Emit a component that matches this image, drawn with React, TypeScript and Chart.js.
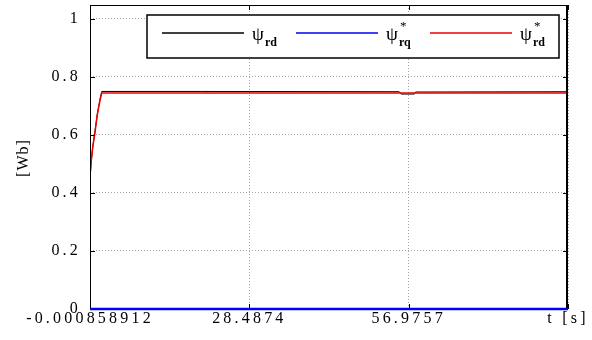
import React, { useEffect, useRef } from "react";
import { Chart, registerables } from "chart.js";

Chart.register(...registerables);

// ---- data ----
const xTickValues = [-0.000858912, 28.4874, 56.9757, 85.4640];
const xTickLabels = ["-0.000858912", "28.4874", "56.9757", "t [s]"];
const yTickValues = [0, 0.2, 0.4, 0.6, 0.8, 1];
const yTickLabels = ["0", "0.2", "0.4", "0.6", "0.8", "1"];

const psiRdTime = [-0.000858912, 0.2, 0.5, 0.9, 1.3, 1.8, 2.1, 20, 55.3, 55.6, 58.0, 58.2, 85.464];
const psiRdValues = [0.45, 0.505, 0.56, 0.615, 0.67, 0.725, 0.75, 0.75, 0.749, 0.741, 0.741, 0.748, 0.749];

const psiRqRefTime = [-0.000858912, 85.464];
const psiRqRefValues = [0, 0];

const psiRdRefTime = [-0.000858912, 0.2, 0.5, 0.9, 1.3, 1.8, 2.1, 85.464];
const psiRdRefValues = [0.455, 0.508, 0.56, 0.61, 0.67, 0.72, 0.745, 0.745];

const legendNames = ["rd", "rq", "rd"];
const legendStar = [false, true, true];
const seriesColors = ["#000000", "#0000ee", "#ee0000"];

const toPts = (t: number[], v: number[]) => t.map((x, i) => ({ x, y: v[i] }));

const SERIF = "'Liberation Serif', 'Times New Roman', serif";

const decorPlugin = {
  id: "decor",
  beforeDraw(chart: any) {
    const ctx = chart.ctx;
    ctx.save();
    ctx.fillStyle = "#ffffff";
    ctx.fillRect(0, 0, chart.width, chart.height);
    ctx.restore();
    ctx.letterSpacing = "3.2px";
  },
  afterDatasetsDraw(chart: any) {
    const ctx = chart.ctx;
    const { left, right, top, bottom } = chart.chartArea;
    const xs = chart.scales.x;
    const ys = chart.scales.y;
    ctx.save();
    ctx.letterSpacing = "0px";
    ctx.setLineDash([]);
    // frame
    ctx.strokeStyle = "#000";
    ctx.lineWidth = 1;
    ctx.beginPath();
    ctx.moveTo(left + 0.5, top + 0.5);
    ctx.lineTo(right - 0.5, top + 0.5);
    ctx.moveTo(left + 0.5, top);
    ctx.lineTo(left + 0.5, bottom);
    ctx.stroke();
    ctx.lineWidth = 2;
    ctx.beginPath();
    ctx.moveTo(right - 1, top);
    ctx.lineTo(right - 1, bottom);
    ctx.stroke();
    // inward tick marks
    ctx.lineWidth = 1;
    ctx.beginPath();
    yTickValues.forEach((v) => {
      const y = Math.round(ys.getPixelForValue(v)) + 0.5;
      ctx.moveTo(left, y);
      ctx.lineTo(left + 5, y);
      ctx.moveTo(right, y);
      ctx.lineTo(right - 5, y);
    });
    xTickValues.forEach((v) => {
      const x = Math.round(xs.getPixelForValue(v)) + 0.5;
      ctx.moveTo(x, bottom);
      ctx.lineTo(x, bottom - 5);
      ctx.moveTo(x, top);
      ctx.lineTo(x, top + 5);
    });
    ctx.stroke();

    // blue line on top of frame
    ctx.strokeStyle = seriesColors[1];
    ctx.lineWidth = 2.5;
    ctx.beginPath();
    const pts = toPts(psiRqRefTime, psiRqRefValues);
    pts.forEach((p, i) => {
      const px = xs.getPixelForValue(p.x);
      const py = ys.getPixelForValue(p.y);
      if (i === 0) ctx.moveTo(px, py);
      else ctx.lineTo(px, py);
    });
    ctx.stroke();

    // legend box
    const bx = 147, by = 15, bw = 412, bh = 43;
    ctx.fillStyle = "#fff";
    ctx.fillRect(bx, by, bw, bh);
    ctx.strokeStyle = "#000";
    ctx.lineWidth = 1.5;
    ctx.strokeRect(bx, by, bw, bh);
    const lineStarts = [162, 296, 430];
    const ly = 33;
    lineStarts.forEach((sx, i) => {
      ctx.strokeStyle = seriesColors[i];
      ctx.lineWidth = 1.5;
      ctx.beginPath();
      ctx.moveTo(sx, ly);
      ctx.lineTo(sx + 82, ly);
      ctx.stroke();
      const tx = sx + 90;
      ctx.fillStyle = "#000";
      ctx.textAlign = "left";
      ctx.textBaseline = "alphabetic";
      ctx.font = `19px ${SERIF}`;
      ctx.fillText("ψ", tx, 40);
      const w = ctx.measureText("ψ").width;
      ctx.font = `bold 12px ${SERIF}`;
      ctx.fillText(legendNames[i], tx + w + 1, 46);
      if (legendStar[i]) {
        ctx.font = `13px ${SERIF}`;
        ctx.fillText("*", tx + w + 2, 30);
      }
    });

    // y title
    ctx.save();
    ctx.translate(28, 158);
    ctx.rotate(-Math.PI / 2);
    ctx.font = `16px ${SERIF}`;
    ctx.fillStyle = "#000";
    ctx.textAlign = "center";
    ctx.textBaseline = "alphabetic";
    ctx.letterSpacing = "1px";
    ctx.fillText("[Wb]", 0, 0);
    ctx.restore();

    ctx.restore();
  },
  afterDraw(chart: any) {
    chart.ctx.letterSpacing = "0px";
  },
};

export default function App() {
  const ref = useRef<HTMLCanvasElement>(null);
  useEffect(() => {
    if (!ref.current) return;
    const chart = new Chart(ref.current, {
      type: "line",
      data: {
        datasets: [
          {
            label: "ψrd",
            data: toPts(psiRdTime, psiRdValues),
            borderColor: seriesColors[0],
            borderWidth: 1,
            pointRadius: 0,
            tension: 0,
            order: 2,
          },
          {
            label: "ψ*rq",
            data: toPts(psiRqRefTime, psiRqRefValues),
            borderColor: seriesColors[1],
            borderWidth: 2,
            pointRadius: 0,
            tension: 0,
            order: 0,
          },
          {
            label: "ψ*rd",
            data: toPts(psiRdRefTime, psiRdRefValues),
            borderColor: seriesColors[2],
            borderWidth: 1.5,
            pointRadius: 0,
            tension: 0,
            order: 1,
          },
        ],
      },
      options: {
        animation: false,
        responsive: true,
        maintainAspectRatio: false,
        layout: { padding: { left: 0, right: 24, top: 5, bottom: 0 } },
        plugins: { legend: { display: false }, tooltip: { enabled: false } },
        scales: {
          x: {
            type: "linear",
            min: xTickValues[0],
            max: xTickValues[xTickValues.length - 1],
            afterBuildTicks: (s: any) => {
              s.ticks = xTickValues.map((v) => ({ value: v }));
            },
            afterFit: (s: any) => {
              s.height = 31;
              s.paddingLeft = 0;
              s.paddingRight = 0;
            },
            ticks: {
              autoSkip: false,
              maxRotation: 0,
              padding: 0,
              color: "#000",
              font: { family: SERIF, size: 16 },
              callback: (_v: any, i: number) => xTickLabels[i],
            },
            grid: {
              drawTicks: false,
              color: "#a8a8a8",
              lineWidth: 1,
            },
            border: { display: false, dash: [1, 2] },
          },
          y: {
            type: "linear",
            min: 0,
            max: 1.048,
            afterBuildTicks: (s: any) => {
              s.ticks = yTickValues.map((v) => ({ value: v }));
            },
            afterFit: (s: any) => {
              s.width = 90;
              s.paddingTop = 0;
              s.paddingBottom = 0;
            },
            ticks: {
              autoSkip: false,
              padding: 9,
              color: "#000",
              font: { family: SERIF, size: 16 },
              callback: (_v: any, i: number) => yTickLabels[i],
            },
            grid: {
              drawTicks: false,
              color: "#a8a8a8",
              lineWidth: 1,
            },
            border: { display: false, dash: [1, 2] },
          },
        },
      },
      plugins: [decorPlugin],
    } as any);
    return () => chart.destroy();
  }, []);
  return (
    <div style={{ position: "absolute", left: 0, top: 0, width: 592, height: 340, background: "#fff" }}>
      <canvas ref={ref} />
    </div>
  );
}
